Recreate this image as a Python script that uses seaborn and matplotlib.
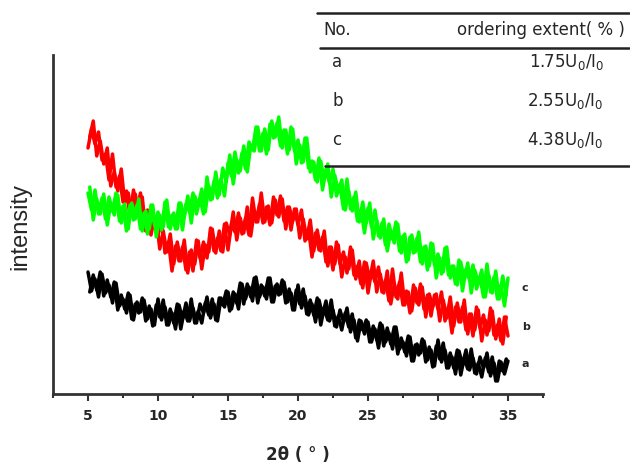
import numpy as np
import pandas as pd
import seaborn as sns
import matplotlib.pyplot as plt
from matplotlib.lines import Line2D
from matplotlib.ticker import MultipleLocator

# 2theta sampling (degrees): main grid and the in-between readings
two_theta = np.arange(5, 35.001, 0.25)
two_theta_mid = np.arange(5.125, 35, 0.25)

# intensities (arbitrary units, noisy traces)
intensity_a = [122, 103, 115, 97, 120, 101, 109, 91, 111, 88, 95, 81, 99, 74, 92, 82,
               94, 75, 85, 69, 95, 74, 87, 69, 81, 65, 89, 75, 91, 73, 86, 71, 90, 81,
               97, 76, 90, 73, 96, 87, 102, 85, 100, 85, 110, 95, 107, 93, 117, 97, 107,
               95, 116, 92, 110, 100, 112, 92, 101, 84, 109, 86, 98, 79, 90, 72, 94, 79,
               93, 73, 84, 67, 84, 72, 86, 62, 74, 53, 73, 60, 72, 52, 65, 46, 69, 52,
               61, 45, 67, 45, 52, 38, 57, 33, 50, 41, 53, 34, 44, 28, 54, 32, 44, 26,
               37, 20, 43, 29, 44, 24, 36, 20, 37, 26, 41, 18, 31, 13, 32, 20, 33]
intensity_a_mid = [102, 119, 104, 122, 98, 114, 97, 112, 84, 99, 85, 101, 75, 90, 81, 96,
                   73, 88, 68, 89, 77, 94, 69, 85, 71, 90, 65, 83, 73, 95, 71, 83, 71, 91,
                   79, 95, 74, 96, 89, 103, 83, 102, 91, 111, 90, 110, 97, 116, 91, 109,
                   98, 116, 92, 108, 99, 114, 91, 105, 84, 104, 90, 105, 80, 94, 79, 96,
                   69, 86, 74, 94, 68, 78, 64, 81, 67, 80, 56, 74, 64, 74, 52, 68, 54, 71,
                   48, 66, 50, 67, 40, 56, 42, 58, 33, 49, 39, 55, 32, 47, 27, 48, 35, 51,
                   26, 41, 26, 44, 19, 36, 25, 45, 21, 31, 17, 36, 22, 37, 13, 33, 23, 35]
intensity_b = [246, 265, 250, 262, 234, 240, 214, 240, 207, 218, 192, 203, 179, 204, 184,
               201, 173, 184, 159, 177, 159, 173, 141, 152, 123, 148, 133, 147, 124, 142,
               123, 154, 136, 152, 136, 166, 143, 156, 143, 170, 144, 170, 162, 181, 160,
               176, 159, 196, 172, 190, 171, 187, 169, 197, 179, 198, 173, 187, 164, 185,
               169, 184, 153, 165, 137, 161, 144, 157, 132, 147, 124, 152, 130, 142, 121,
               147, 119, 128, 110, 132, 101, 123, 112, 127, 102, 114, 93, 125, 97, 112,
               89, 103, 81, 109, 91, 110, 85, 99, 78, 99, 85, 102, 73, 87, 61, 87, 72,
               87, 64, 80, 58, 87, 66, 79, 59, 86, 59, 69, 53, 77, 58]
intensity_b_mid = [257, 273, 238, 253, 230, 246, 208, 222, 203, 225, 191, 201, 180, 200,
                   181, 197, 163, 183, 166, 176, 145, 163, 142, 160, 130, 152, 133, 154,
                   121, 144, 130, 153, 125, 149, 142, 165, 141, 163, 142, 171, 159, 182,
                   154, 176, 161, 187, 158, 183, 172, 201, 172, 188, 171, 194, 177, 195,
                   165, 187, 173, 185, 156, 175, 155, 174, 143, 164, 143, 163, 128, 147,
                   130, 149, 117, 137, 125, 144, 115, 133, 106, 131, 114, 133, 102, 120,
                   101, 123, 90, 110, 95, 121, 89, 102, 83, 106, 89, 107, 77, 100, 87, 100,
                   73, 94, 76, 97, 68, 91, 72, 94, 60, 80, 64, 84, 53, 74, 63, 83, 55, 75,
                   50, 77]
intensity_c = [201, 184, 204, 180, 196, 175, 197, 183, 201, 173, 188, 163, 189, 174, 189,
               165, 181, 160, 189, 169, 182, 164, 192, 167, 179, 165, 191, 164, 190, 182,
               201, 180, 196, 180, 217, 194, 213, 196, 215, 198, 231, 218, 242, 221, 241,
               225, 252, 244, 267, 243, 261, 240, 270, 256, 271, 248, 264, 240, 267, 243,
               254, 231, 256, 226, 233, 214, 236, 204, 225, 211, 225, 198, 208, 185, 215,
               185, 197, 173, 184, 161, 186, 167, 184, 158, 171, 149, 170, 155, 172, 143,
               158, 132, 157, 141, 156, 132, 147, 124, 151, 129, 140, 120, 146, 119, 128,
               110, 134, 103, 125, 114, 129, 105, 117, 97, 130, 102, 117, 95, 109, 88, 116]
intensity_c_mid = [207, 174, 195, 180, 200, 169, 190, 179, 199, 171, 190, 165, 191, 175,
                   195, 163, 183, 165, 189, 157, 179, 167, 194, 165, 181, 165, 191, 177,
                   198, 171, 198, 188, 205, 182, 208, 195, 222, 199, 226, 212, 239, 210,
                   234, 223, 248, 222, 248, 243, 267, 243, 265, 244, 273, 257, 277, 246,
                   264, 244, 265, 230, 249, 232, 256, 222, 232, 212, 233, 214, 230, 197,
                   219, 203, 214, 184, 203, 183, 202, 172, 192, 171, 191, 155, 174, 156,
                   175, 143, 163, 151, 170, 141, 160, 134, 159, 142, 162, 130, 148, 128,
                   150, 116, 136, 122, 147, 116, 128, 109, 132, 114, 131, 101, 124, 111,
                   124, 97, 119, 101, 123, 95, 118, 99]

samples = ["a", "b", "c"]
table_ratio = ["1.75", "2.55", "4.38"]

W, H = 630, 469
fx = lambda px: px / W
fy = lambda py: 1 - py / H

traces = {"a": (intensity_a, intensity_a_mid),
          "b": (intensity_b, intensity_b_mid),
          "c": (intensity_c, intensity_c_mid)}
frames = []
for s, (main, mid) in traces.items():
    frames.append(pd.DataFrame({"two_theta": two_theta, "intensity": main,
                                "sample": s, "pass": s + "1"}))
    frames.append(pd.DataFrame({"two_theta": two_theta_mid, "intensity": mid,
                                "sample": s, "pass": s + "2"}))
df = pd.concat(frames, ignore_index=True)

sns.set_style("ticks")
fig = plt.figure(figsize=(6.3, 4.69), dpi=100)
ax = fig.add_axes([fx(53), fy(394), 490 / W, 339 / H])

sns.lineplot(data=df, x="two_theta", y="intensity", hue="sample", units="pass",
             palette={"a": "black", "b": "#ff0000", "c": "#00ff00"},
             estimator=None, lw=2.5, legend=False, ax=ax)

ax.set_xlim(2.5, 37.5)
ax.set_ylim(0, 339)
ax.set_xlabel("")
ax.set_ylabel("")
ax.set_yticks([])
ax.xaxis.set_major_locator(MultipleLocator(5))
ax.xaxis.set_minor_locator(MultipleLocator(2.5))
ax.tick_params(axis="x", which="major", length=5, width=1.5, color="#333333", pad=6)
ax.tick_params(axis="x", which="minor", length=3, width=1.5, color="#333333")
for lab in ax.get_xticklabels():
    lab.set_fontweight("bold")
    lab.set_fontsize(10)
sns.despine(ax=ax)
for sp in ("left", "bottom"):
    ax.spines[sp].set_linewidth(2)
    ax.spines[sp].set_color("#333333")

# curve tags
tag_y = {"a": 30, "b": 67, "c": 106}
for s in samples:
    ax.text(36.0, tag_y[s], s, fontsize=8, fontweight="bold", va="center", ha="left")

fig.text(fx(298), fy(455), "2θ ( ° )", ha="center", va="center",
         fontsize=12, fontweight="bold")
fig.text(fx(20), fy(226), "intensity", rotation=90, ha="center", va="center",
         fontsize=17, family="Liberation Sans")

# inset table
for x0, y0 in [(317, 13), (320, 48), (325, 166)]:
    fig.add_artist(Line2D([fx(x0), fx(629)], [fy(y0), fy(y0)],
                          transform=fig.transFigure, color="#222222", lw=1.8))
fig.text(fx(323), fy(30), "No.", fontsize=12, va="center", ha="left")
fig.text(fx(625), fy(30), "ordering extent( % )", fontsize=12, va="center", ha="right")
for i, (s, r) in enumerate(zip(samples, table_ratio)):
    y = [62, 101, 140][i]
    fig.text(fx(332), fy(y), s, fontsize=12, va="center", ha="left")
    fig.text(fx(604), fy(y), r + r"U$_0$/I$_0$", fontsize=12, va="center", ha="right")

fig.savefig("out.png", dpi=100)
